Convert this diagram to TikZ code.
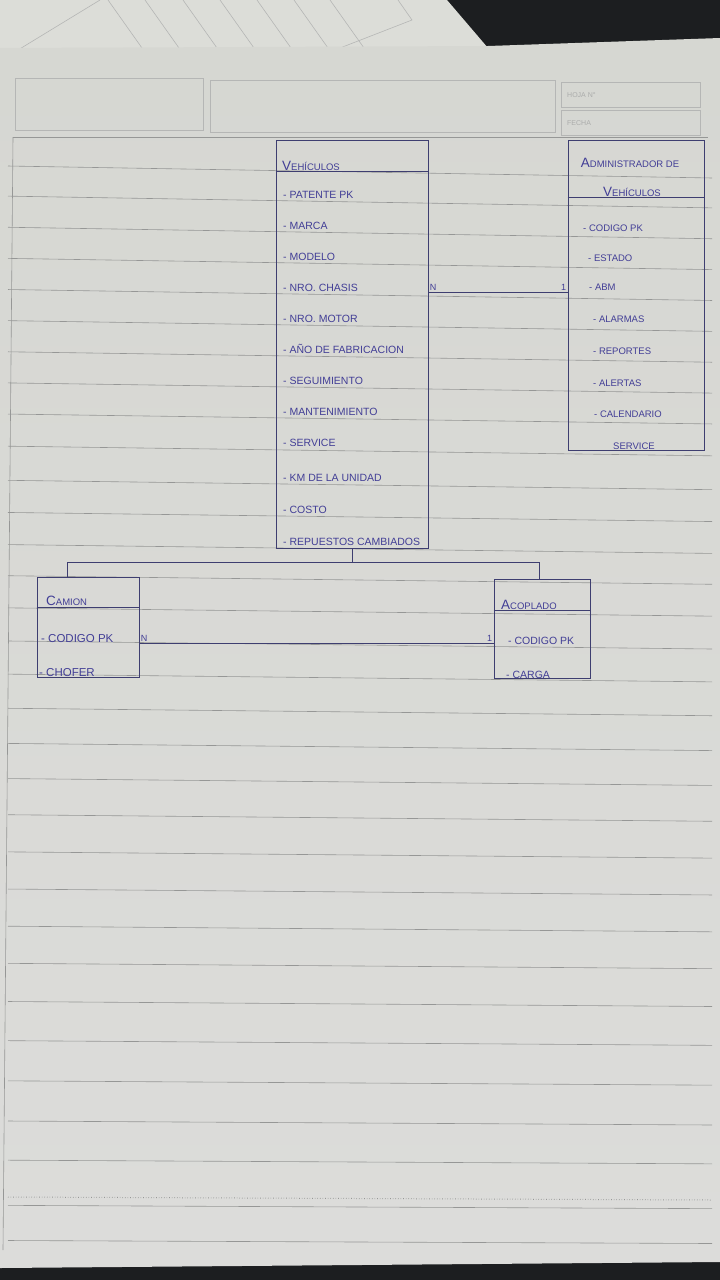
\documentclass[tikz,border=0pt]{standalone}
\usepackage{fontspec}
\setsansfont{Liberation Sans}
\usetikzlibrary{positioning,calc}

\definecolor{ink}{RGB}{66,62,150}
\definecolor{inkline}{RGB}{62,62,112}
\definecolor{paperA}{RGB}{214,215,210}
\definecolor{paperB}{RGB}{232,233,230}
\definecolor{paperC}{RGB}{220,220,218}
\definecolor{backsheet}{RGB}{220,221,216}
\definecolor{rule}{RGB}{150,151,150}
\definecolor{desk}{RGB}{28,30,32}

\newcommand\scapt[2]{#1{\fontsize{9.5}{11}\selectfont #2}}

\begin{document}
\begin{tikzpicture}[x=1pt, y=-1pt, font=\sffamily,
  entity/.style={draw=inkline, line width=1pt, inner sep=0pt},
  attr/.style={anchor=base west, text=ink, font=\sffamily\fontsize{10.5}{12}\selectfont, inner sep=1pt},
  battr/.style={attr, font=\sffamily\fontsize{11.5}{13}\selectfont},
  sattr/.style={attr, font=\sffamily\fontsize{9.5}{11}\selectfont},
  title/.style={anchor=west, text=ink, font=\sffamily\fontsize{13.5}{15}\selectfont, inner sep=1pt},
  card/.style={text=ink, font=\sffamily\fontsize{9}{10}\selectfont, inner sep=1pt},
  link/.style={draw=inkline, line width=0.9pt},
  ruled/.style={draw=rule, line width=0.6pt},
  form/.style={draw=rule!70, line width=0.6pt},
  formtext/.style={anchor=west, text=rule!80, font=\sffamily\fontsize{7}{8}\selectfont, inner sep=1pt}]
\useasboundingbox (0,0) rectangle (720,1280);

\fill[desk] (0,0) rectangle (720,1280);
\fill[backsheet] (0,0) -- (447,0) -- (488,48) -- (0,50) -- cycle;
\foreach \x in {108,145,183,220,257,294,330} \draw[form] (\x,0) -- (\x+34,48);
\draw[form] (18,50) -- (100,0);
\draw[form] (340,48) -- (412,20) -- (398,0);
\shade[top color=paperA, middle color=paperB, bottom color=paperC]
  (0,48) -- (488,46) -- (720,38) -- (720,1262) -- (0,1268) -- cycle;

% hoja
\draw[form] (15,78) rectangle (203,130);
\draw[form] (210,80) rectangle (555,132);
\draw[form] (561,82) rectangle (700,107);
\draw[form] (561,110) rectangle (700,135);
\node[formtext] (hoja) at (566,95) {HOJA N°};
\node[formtext] (fecha) at (566,123) {FECHA};

\draw[ruled] (13,137) -- (708,137);
\draw[ruled] (13,137) -- (3,1250);
\foreach \y in {172,202,233,264,295,326,357,388,419,451,485,517,549,580,612,645,678,712,747,782,818,855,892,929,966,1004,1043,1083,1123,1162,1207,1242}{
  \pgfmathsetmacro\tilt{6-4.5*(\y-170)/1070}
  \draw[ruled] (8,\y-\tilt) -- (712,\y+\tilt);
}
\draw[ruled, dotted, line width=1pt] (8,1197) -- (712,1200);

% Vehiculos
\node[entity, minimum width=152, minimum height=408] (veh) at (352,344) {};
\node[title] (vtit) at (281,166) {\scapt{V}{EHÍCULOS}};
\draw[link] (vtit.south -| veh.west) -- (vtit.south -| veh.east);
\foreach \t/\y [count=\i] in {PATENTE PK/198, MARCA/229, MODELO/260, NRO. CHASIS/291, NRO. MOTOR/322, AÑO DE FABRICACION/353, SEGUIMIENTO/384, MANTENIMIENTO/415, SERVICE/446, KM DE LA UNIDAD/481, COSTO/513, REPUESTOS CAMBIADOS/545}
  \node[attr] (v\i) at (282,\y) {- \t};

% Administrador de Vehiculos
\node[entity, minimum width=136, minimum height=310] (adm) at (636,295) {};
\node[title, anchor=center] (atit1) at (630,163) {\scapt{A}{DMINISTRADOR DE}};
\node[title, anchor=center] (atit2) at (632,192) {\scapt{V}{EHÍCULOS}};
\draw[link] (atit2.south -| adm.west) -- (atit2.south -| adm.east);
\foreach \t/\x/\y [count=\i] in {- CODIGO PK/582/231, - ESTADO/587/261, - ABM/588/290, - ALARMAS/592/322, - REPORTES/592/354, - ALERTAS/592/386, - CALENDARIO/593/417, SERVICE/612/449}
  \node[sattr] (a\i) at (\x,\y) {\t};

\draw[link] (v4.south -| veh.east) -- (v4.south -| adm.west)
  node[card, pos=0, above right] (vn) {N}
  node[card, pos=1, above left] (a1n) {1};

% Camion
\node[entity, minimum width=102, minimum height=100] (cam) at (88,627) {};
\node[title] (ctit) at (45,601) {\scapt{C}{AMION}};
\draw[link] (ctit.south -| cam.west) -- (ctit.south -| cam.east);
\node[battr] (c1) at (40,642) {- CODIGO PK};
\node[battr] (c2) at (38,676) {- CHOFER};

% Acoplado
\node[entity, minimum width=96, minimum height=99] (aco) at (542,628.5) {};
\node[title] (ptit) at (500,605) {\scapt{A}{COPLADO}};
\draw[link] (ptit.south -| aco.west) -- (ptit.south -| aco.east);
\node[attr] (p1) at (507,644) {- CODIGO PK};
\node[attr] (p2) at (505,678) {- CARGA};

\coordinate (isa) at ($(veh.south)+(0,14)$);
\draw[link] (veh.south) -- (isa);
\draw[link] ([xshift=-21pt]cam.north) |- (isa) -| ([xshift=-3pt]aco.north);

\draw[link] (c1.south -| cam.east) -- (c1.south -| aco.west)
  node[card, pos=0, above right] (cn) {N}
  node[card, pos=1, above left] (p1n) {1};
\end{tikzpicture}
\end{document}
